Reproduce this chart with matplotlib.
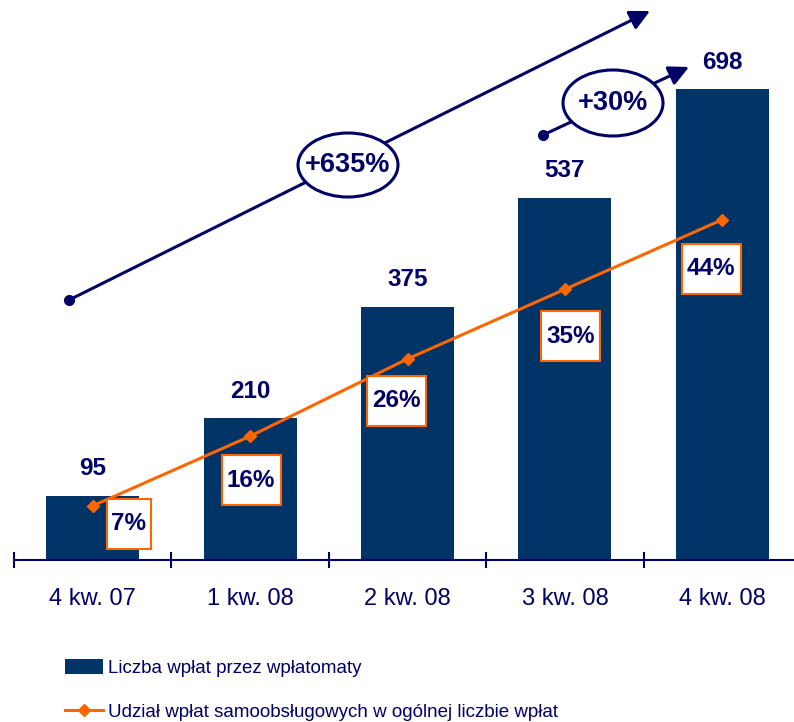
import matplotlib
matplotlib.use('Agg')
import matplotlib.pyplot as plt
from matplotlib import font_manager
from matplotlib.patches import Rectangle, Ellipse, FancyArrowPatch
from matplotlib.transforms import ScaledTranslation
from matplotlib.lines import Line2D

# ---- data ----
categories = ['4 kw. 07', '1 kw. 08', '2 kw. 08', '3 kw. 08', '4 kw. 08']
deposits = [95, 210, 375, 537, 698]
share_pct = [7, 16, 26, 35, 44]
bar_label = 'Liczba wpłat przez wpłatomaty'
line_label = 'Udział wpłat samoobsługowych w ogólnej liczbie wpłat'
growth_total = '+635%'
growth_last = '+30%'

# ---- style ----
NAVY = '#000066'
BAR = '#003366'
ORANGE = '#ff6600'
plt.rcParams['font.family'] = ['Liberation Sans', 'DejaVu Sans']

narrow = None
for f in font_manager.fontManager.ttflist:
    if 'Narrow' in f.name and 'Liberation' in f.name:
        narrow = f.name
        break
if narrow:
    legend_family = [narrow, 'Liberation Sans', 'DejaVu Sans']
    legend_size = 16
else:
    legend_family = ['Liberation Sans', 'DejaVu Sans']
    legend_size = 13.5

W, H = 794, 722
fig = plt.figure(figsize=(W / 100, H / 100), dpi=100)


def fx(x):
    return x / W


def fy(y):
    return 1 - y / H


ax = fig.add_axes([fx(14), fy(560), (801 - 14) / W, 560 / H])
xs = list(range(len(categories)))
bars = ax.bar(xs, deposits, width=0.59, color=BAR, zorder=2, label=bar_label)
ax.set_xlim(-0.5, len(categories) - 0.5)
ax.set_ylim(0, 830)
for s in ['top', 'left', 'right']:
    ax.spines[s].set_visible(False)
ax.spines['bottom'].set_color(NAVY)
ax.spines['bottom'].set_linewidth(1.5)
ax.set_yticks([])
ax.set_xticks(xs)
ax.set_xticklabels(categories)
ax.set_xticks([i - 0.5 for i in range(len(categories) + 1)], minor=True)
ax.tick_params(axis='x', which='major', length=0, pad=20, labelsize=17, labelcolor=NAVY)
ax.tick_params(axis='x', which='minor', direction='inout', length=11.5, width=1.5, color=NAVY)

for xi, v in zip(xs, deposits):
    ax.annotate(str(v), xy=(xi, v), xytext=(0, 27), textcoords='offset pixels',
                ha='center', va='center', fontsize=17.5, fontweight='bold', color=NAVY)

ax2 = ax.twinx()
ax2.set_ylim(0, 72.4)
ax2.set_yticks([])
for s in ax2.spines.values():
    s.set_visible(False)
line, = ax2.plot(xs, share_pct, color=ORANGE, lw=2.2, marker='D', ms=6,
                 zorder=3, label=line_label)

box_offsets = [(36, -18), (1, -44), (-11, -42), (6, -47), (-11, -49)]
for xi, v, (dx, dy) in zip(xs, share_pct, box_offsets):
    txt = f'{v}%'
    bw = 44 if len(txt) == 2 else 59
    bh = 50
    rect = Rectangle((dx - bw / 2, dy - bh / 2), bw, bh,
                     transform=ScaledTranslation(xi, v, ax2.transData),
                     facecolor='white', edgecolor=ORANGE, lw=1.5, zorder=4)
    ax2.add_artist(rect)
    ax2.annotate(txt, xy=(xi, v), xytext=(dx, dy), textcoords='offset pixels',
                 ha='center', va='center', fontsize=17.5, fontweight='bold',
                 color=NAVY, zorder=5)

# ---- growth arrows ----
arrow_style = '-|>,head_length=0.6,head_width=0.3'
for (x0, y0), (x1, y1) in [((69, 300), (650, 11)), ((543, 135), (689, 67))]:
    fig.add_artist(FancyArrowPatch((fx(x0), fy(y0)), (fx(x1), fy(y1)),
                                   transform=fig.transFigure, arrowstyle=arrow_style,
                                   mutation_scale=20, color=NAVY, lw=2.2,
                                   shrinkA=0, shrinkB=0, zorder=3))
    fig.add_artist(Line2D([fx(x0)], [fy(y0)], marker='o', ms=7, color=NAVY,
                          transform=fig.transFigure, zorder=3))

for (cx, cy, ew, eh, txt, fs) in [(348, 165, 100, 64, growth_total, 19.5),
                                   (613, 103, 100, 66, growth_last, 19.5)]:
    fig.add_artist(Ellipse((fx(cx), fy(cy)), ew / W, eh / H, transform=fig.transFigure,
                           facecolor='white', edgecolor=NAVY, lw=2.2, zorder=5))
    fig.text(fx(cx), fy(cy), txt, ha='center', va='center', fontsize=fs,
             fontweight='bold', color=NAVY, zorder=6)

# ---- legend ----
fs_px = legend_size * 100 / 72
leg = fig.legend(handles=[bars, line], labels=[bar_label, line_label],
                 loc='upper left', bbox_to_anchor=(fx(65), fy(659)),
                 frameon=False, borderpad=0, borderaxespad=0,
                 handlelength=38 / fs_px, handleheight=16 / fs_px,
                 handletextpad=5 / fs_px,
                 labelspacing=26 / fs_px, numpoints=1,
                 prop={'family': legend_family, 'size': legend_size})
for t in leg.get_texts():
    t.set_color(NAVY)

fig.savefig('out.png', dpi=100)
